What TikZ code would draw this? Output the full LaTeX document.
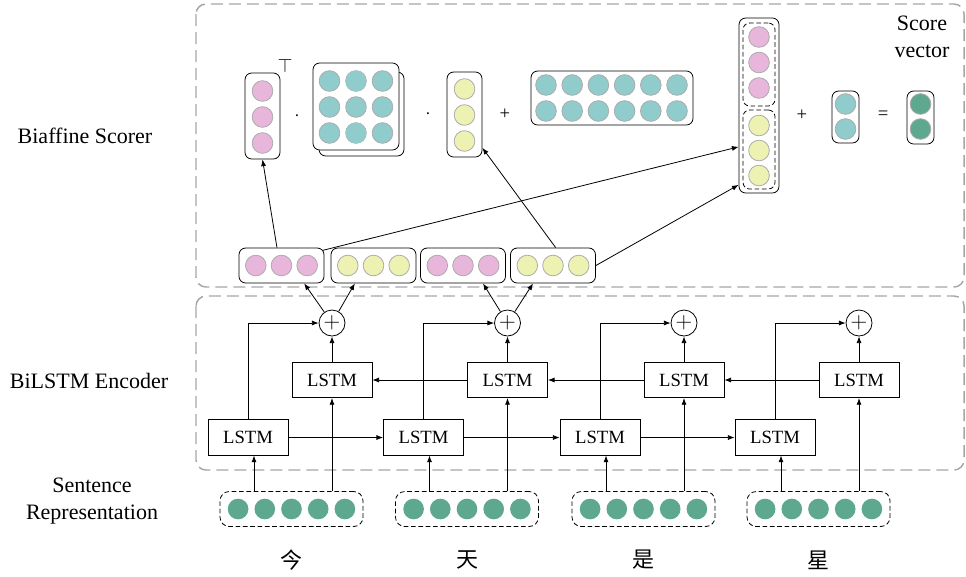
\documentclass[tikz,border=0pt]{standalone}
\usepackage{fontspec}
\setmainfont{Liberation Serif}
\newfontfamily\cjk{Noto Sans CJK SC}
\usetikzlibrary{arrows.meta}
\definecolor{pinkc}{HTML}{E7B6DA}
\definecolor{yelc}{HTML}{EDF1B2}
\definecolor{tealc}{HTML}{90CCCB}
\definecolor{greenc}{HTML}{5EA88F}
\definecolor{framec}{HTML}{A6A6A6}
\definecolor{ringc}{HTML}{ABABAB}

\begin{document}
\begin{tikzpicture}[x=0.75pt, y=-0.75pt, >={Latex[length=5pt,width=3.8pt]},
  lbl/.style={font=\fontsize{16.5}{20}\selectfont, align=center},
  lstm/.style={draw, line width=0.6pt, minimum width=60pt, minimum height=26.5pt, inner sep=0pt, font=\fontsize{14}{16}\selectfont},
  addop/.style={circle, draw, line width=0.6pt, minimum size=19.5pt, inner sep=0pt, font=\fontsize{17}{17}\selectfont},
  unit/.style={circle, draw=ringc, line width=0.6pt, minimum size=15.5pt, inner sep=0pt},
  vbox/.style={draw, rounded corners=5pt, line width=0.6pt, inner sep=0pt},
  sent/.style={draw, dash pattern=on 3.5pt off 2pt, rounded corners=7pt, line width=0.6pt, minimum width=107.25pt, minimum height=26.25pt},
  region/.style={draw=framec, line width=1.1pt, dash pattern=on 9pt off 4.5pt, rounded corners=7.5pt},
  op/.style={font=\fontsize{14}{14}\selectfont, inner sep=1pt},
  conn/.style={->, line width=0.6pt}]
\useasboundingbox (0,0) rectangle (966,576);

% regions
\draw[region] (196,4) rectangle (964,287);
\draw[region] (196,296) rectangle (964,470);
\node[lbl] (lscorer) at (85,136) {Biaffine Scorer};
\node[lbl] (lencoder) at (89,381) {BiLSTM Encoder};
\node[lbl] (lsent) at (92,501) {Sentence\\Representation};
\node[lbl] (lscore) at (922,37) {Score\\vector};

% words, sentence vectors, encoder
\foreach \c/\w [count=\i] in {291.5/今,467/天,643.5/是,818.5/星} {
  \node[lbl] (ch\i) at (\c,560) {\cjk \w};
  \node[sent] (sen\i) at (\c,509) {};
  \foreach \k in {0,...,4}
    \node[unit, draw=none, fill=greenc] (sen\i-\k) at (\c-53.4+26.7*\k,509) {};
  \node[lstm] (fw\i) at (\c-43.5,437.5) {LSTM};
  \node[lstm] (bw\i) at (\c+40.5,380) {LSTM};
  \node[addop] (add\i) at (\c+40.5,323) {$+$};
}
\foreach \i in {1,...,4} {
  \draw[conn] ([xshift=4.5pt]fw\i.south |- sen\i.north) -- ([xshift=4.5pt]fw\i.south);
  \draw[conn] (bw\i.south |- sen\i.north) -- (bw\i.south);
  \draw[conn] (fw\i.north) |- (add\i.west);
  \draw[conn] (bw\i.north) -- (add\i.south);
}
\foreach \i/\j in {1/2,2/3,3/4} {
  \draw[conn] (fw\i.east) -- (fw\j.west);
  \draw[conn] (bw\j.west) -- (bw\i.east);
}

% concatenated outputs
\foreach \c/\col [count=\i] in {281.5/pinkc,373.5/yelc,463/pinkc,553/yelc} {
  \node[vbox, minimum width=63.75pt, minimum height=26.25pt] (cat\i) at (\c,265.5) {};
  \foreach \k in {0,...,2}
    \node[unit, fill=\col] (cat\i-\k) at (\c-25.7+25.7*\k,265.5) {};
}
\draw[conn] (add1) -- ([xshift=17pt]cat1.south);
\draw[conn] (add1) -- ([xshift=-14pt]cat2.south);
\draw[conn] (add2) -- ([xshift=15pt]cat3.south);
\draw[conn] (add2) -- ([xshift=-15pt]cat4.south);

% biaffine terms
\node[vbox, minimum width=26.25pt, minimum height=64.5pt] (hvec) at (262.5,116) {};
\foreach \k in {0,...,2} \node[unit, fill=pinkc] (h\k) at (262.5,91+26*\k) {};
\node[op, font=\fontsize{14}{14}\selectfont] (tr) at (285,66) {$\top$};
\node[op] (dot1) at (297,116) {$\cdot$};
\node[vbox, fill=white, minimum width=63.75pt, minimum height=63pt] (wback) at (361.5,114) {};
\node[vbox, fill=white, minimum width=64.5pt, minimum height=65.25pt] (wmat) at (356,106.5) {};
\foreach \r in {0,...,2} \foreach \c in {0,...,2}
  \node[unit, fill=tealc] (w\r\c) at (329.5+26.5*\c,81+26*\r) {};
\node[unit, draw=none, fill=tealc] (w01b) at (w01) {};
\node[unit, draw=none, fill=tealc] (w21b) at (w21) {};
\node[op] (dot2) at (428,114) {$\cdot$};
\node[vbox, minimum width=26.25pt, minimum height=63.75pt] (dvec) at (464.5,114.5) {};
\foreach \k in {0,...,2} \node[unit, fill=yelc] (d\k) at (464.5,89+26*\k) {};
\node[op] (plus1) at (505,114) {+};
\node[vbox, minimum width=121.5pt, minimum height=40.5pt] (bias) at (612,98) {};
\foreach \r in {0,1} \foreach \c in {0,...,5}
  \node[unit, fill=tealc] (b\r\c) at (546+26.2*\c,85+26*\r) {};
\node[vbox, minimum width=30pt, minimum height=131.25pt] (stack) at (759,105.5) {};
\node[vbox, dash pattern=on 3.5pt off 2pt, minimum width=24pt, minimum height=62.25pt] (stop) at (759,64.5) {};
\node[vbox, dash pattern=on 3.5pt off 2pt, minimum width=24pt, minimum height=59.25pt] (sbot) at (759,149.5) {};
\foreach \k in {0,...,2} {
  \node[unit, fill=pinkc] (sp\k) at (759,37+25.5*\k) {};
  \node[unit, fill=yelc] (sy\k) at (759,125.5+25*\k) {};
}
\node[op] (plus2) at (802,115) {+};
\node[vbox, minimum width=20.25pt, minimum height=39pt] (uvec) at (845.5,117) {};
\foreach \k in {0,1} \node[unit, fill=tealc] (u\k) at (845.5,104+25*\k) {};
\node[op] (eq) at (883,115) {=};
\node[vbox, minimum width=20.25pt, minimum height=39.75pt] (score) at (920.5,117.5) {};
\foreach \k in {0,1} \node[unit, fill=greenc] (s\k) at (920.5,104+25*\k) {};

\draw[conn] ([xshift=-3.4pt]cat1.north) -- (hvec.south);
\draw[conn] ([xshift=-1pt,yshift=-2pt]cat1.north east) -- ([yshift=-31pt]stack.west);
\draw[conn] ([xshift=2pt]cat4.north) -- ([yshift=-25pt]dvec.east);
\draw[conn] (cat4.east) -- ([yshift=-59.5pt]stack.west);
\end{tikzpicture}
\end{document}
